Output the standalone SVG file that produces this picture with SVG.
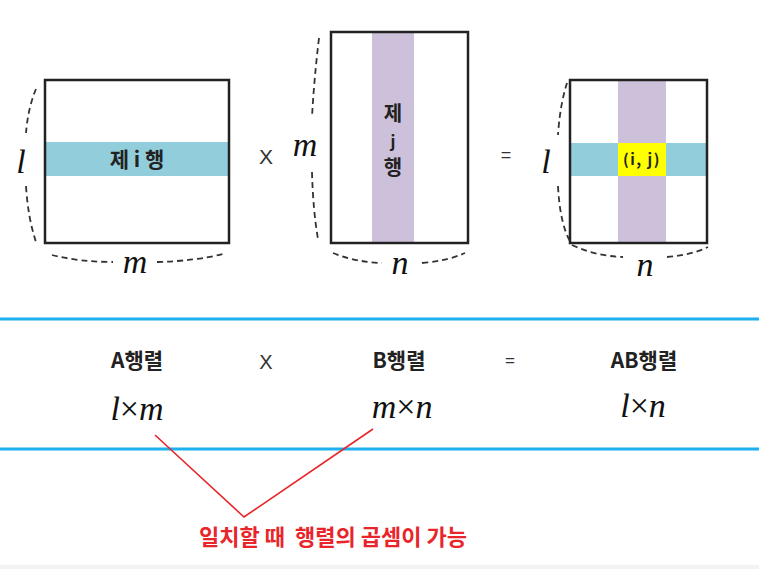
<svg xmlns="http://www.w3.org/2000/svg" width="759" height="569" viewBox="0 0 759 569">
<style>
.frame{fill:none;stroke:#222;stroke-width:2.5}
.dash{fill:none;stroke:#333;stroke-width:1.8;stroke-dasharray:6 4}
.var{font-family:"Liberation Serif",serif;font-style:italic;font-size:34px;fill:#111;text-anchor:middle}
.kr{font-family:"Noto Sans CJK KR","Noto Sans",sans-serif;font-weight:bold;fill:#222;text-anchor:middle}
.op{font-family:"Liberation Sans",sans-serif;fill:#333;text-anchor:middle}
.sep{stroke:#1CB0EE;stroke-width:3}
.row{fill:#92CDDC}
.col{fill:#CCC0DA}
</style>
<rect x="0" y="0" width="759" height="569" fill="#fff"/>
<rect x="0" y="565" width="759" height="4" fill="#f2f2f2"/>

<g id="matrixA">
<rect x="45" y="80" width="184" height="163" fill="#fff"/>
<rect class="row" x="45" y="142" width="184" height="34"/>
<rect class="frame" x="45" y="80" width="184" height="163"/>
<text class="kr" x="137" y="167" font-size="21">제 i 행</text>
<path class="dash" d="M36,89 Q28,108 26,133"/>
<path class="dash" d="M26,186 Q28,218 36,242"/>
<text class="var" x="21" y="173">l</text>
<path class="dash" d="M52,255 Q80,262 113,262"/>
<path class="dash" d="M157,262 Q195,261 223,254"/>
<text class="var" x="135" y="273">m</text>
</g>

<g id="times1"><text class="op" x="266" y="164" font-size="21">X</text></g>

<g id="matrixB">
<rect x="331" y="32" width="137" height="211" fill="#fff"/>
<rect class="col" x="372" y="32" width="42" height="211"/>
<rect class="frame" x="331" y="32" width="137" height="211"/>
<text class="kr" x="393" y="121" font-size="20">제</text>
<text class="kr" x="393" y="147" font-size="16">j</text>
<text class="kr" x="393" y="175" font-size="20">행</text>
<path class="dash" d="M319,38 Q314,80 312,117"/>
<path class="dash" d="M312,172 Q313,210 318,239"/>
<text class="var" x="305" y="156">m</text>
<path class="dash" d="M333,253 Q355,262 382,263"/>
<path class="dash" d="M422,263 Q447,261 465,253"/>
<text class="var" x="400" y="274">n</text>
</g>

<g id="equals1"><text class="op" x="506" y="161" font-size="18" fill="#666">=</text></g>

<g id="matrixC">
<rect x="570" y="80" width="137" height="163" fill="#fff"/>
<rect class="row" x="570" y="143" width="137" height="33"/>
<rect class="col" x="618" y="80" width="48" height="163"/>
<rect x="618" y="143" width="48" height="33" fill="#FFFF00"/>
<rect class="frame" x="570" y="80" width="137" height="163"/>
<text class="kr" x="642" y="165" font-size="15" letter-spacing="1.5">(i, j)</text>
<path class="dash" d="M567,83 Q560,105 558,135"/>
<path class="dash" d="M558,186 Q560,225 571,243"/>
<text class="var" x="546" y="173">l</text>
<path class="dash" d="M572,245 Q595,256 623,257"/>
<path class="dash" d="M667,257 Q692,255 708,247"/>
<text class="var" x="645" y="276">n</text>
</g>

<g id="separators">
<line class="sep" x1="0" y1="319" x2="759" y2="319"/>
<line class="sep" x1="0" y1="449" x2="759" y2="449"/>
</g>

<g id="labelA">
<text class="kr" x="137" y="368" font-size="21">A행렬</text>
<text class="var" x="137" y="420" font-size="36">l<tspan font-style="normal">×</tspan>m</text>
</g>
<g id="times2"><text class="op" x="266" y="369" font-size="20">X</text></g>
<g id="labelB">
<text class="kr" x="399" y="368" font-size="21">B행렬</text>
<text class="var" x="402" y="418" font-size="36">m<tspan font-style="normal">×</tspan>n</text>
</g>
<g id="equals2"><text class="op" x="510" y="366" font-size="17" fill="#666">=</text></g>
<g id="labelAB">
<text class="kr" x="644" y="368" font-size="21">AB행렬</text>
<text class="var" x="643" y="417" font-size="36">l<tspan font-style="normal">×</tspan>n</text>
</g>

<g id="connectors">
<polyline points="155,435 244,517 373,429" fill="none" stroke="#E8252A" stroke-width="1.6"/>
</g>

<g id="note">
<text x="333" y="545" font-family="'Noto Sans CJK KR','Noto Sans',sans-serif" font-weight="bold" font-size="22" fill="#E8252A" text-anchor="middle" xml:space="preserve">일치할 때  행렬의 곱셈이 가능</text>
</g>
</svg>
